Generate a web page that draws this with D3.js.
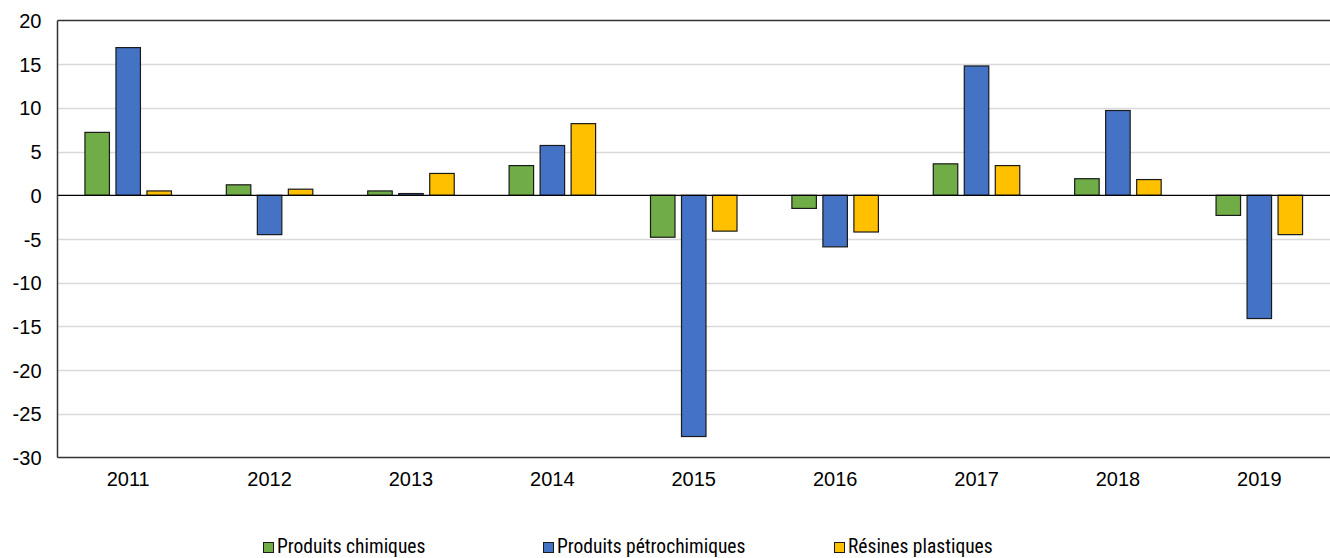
<!DOCTYPE html>
<html>
<head>
<meta charset="utf-8">
<script src="https://cdn.jsdelivr.net/npm/d3@7"></script>
<style>
  html, body { margin: 0; padding: 0; background: #fff; }
  svg { display: block; }
  text { font-family: "Liberation Sans Narrow", "Roboto Condensed", "DejaVu Sans Condensed", sans-serif; fill: #000; }
</style>
</head>
<body>
<svg id="chart" width="1330" height="558"></svg>
<script>
const years = ["2011","2012","2013","2014","2015","2016","2017","2018","2019"];
const seriesNames = ["Produits chimiques", "Produits pétrochimiques", "Résines plastiques"];
const chimiques     = [7.2, 1.2, 0.5, 3.4, -4.8, -1.5, 3.6, 1.9, -2.3];
const petrochimiques = [16.9, -4.5, 0.2, 5.7, -27.6, -5.9, 14.8, 9.7, -14.1];
const resines       = [0.5, 0.7, 2.5, 8.2, -4.1, -4.2, 3.4, 1.8, -4.5];
const yTicks = [20, 15, 10, 5, 0, -5, -10, -15, -20, -25, -30];
const yTickLabels = ["20", "15", "10", "5", "0", "-5", "-10", "-15", "-20", "-25", "-30"];
const colors = ["#70ad47", "#4472c4", "#ffc000"];

const seriesValues = [chimiques, petrochimiques, resines];

(function () {
const svg = d3.select("#chart");
const mLeft = 57.5, mRight = 1330, mTop = 20.5, mBottom = 457.5;

const x0 = d3.scaleBand().domain(years).range([mLeft, mRight]).padding(0);
const x1 = d3.scaleBand().domain(seriesNames).range([-43.25, 43.25]).paddingInner(0.21).paddingOuter(0);
const y = d3.scaleLinear().domain([-30, 20]).range([mBottom, mTop]);

// gridlines
svg.append("g").selectAll("line").data(yTicks.filter(t => t !== 20 && t !== -30 && t !== 0))
  .join("line")
  .attr("x1", mLeft).attr("x2", mRight)
  .attr("y1", d => Math.round(y(d)) + 0.5).attr("y2", d => Math.round(y(d)) + 0.5)
  .attr("stroke", "#d9d9d9").attr("stroke-width", 1.3);

// y axis labels
const yAxis = d3.axisLeft(y).tickValues(yTicks).tickSize(0).tickPadding(16)
  .tickFormat((d, i) => yTickLabels[i]);
const gy = svg.append("g").attr("transform", `translate(${mLeft},0)`).call(yAxis);
gy.select(".domain").remove();
gy.selectAll("text").attr("font-size", 20).style("font-family", "'Liberation Sans Narrow', sans-serif").attr("fill", "#000").attr("dy", "0.35em");

// x axis labels
const xAxis = d3.axisBottom(x0).tickSize(0).tickPadding(14);
const gx = svg.append("g").attr("transform", `translate(0,${mBottom})`).call(xAxis);
gx.select(".domain").remove();
gx.selectAll("text").attr("font-size", 20).style("font-family", "'Liberation Sans Narrow', sans-serif").attr("fill", "#000");

// bars
seriesValues.forEach((vals, si) => {
  svg.append("g").selectAll("rect").data(vals.map((v, i) => ({year: years[i], v})))
    .join("rect")
    .attr("x", d => x0(d.year) + x0.bandwidth() / 2 + x1(seriesNames[si]))
    .attr("width", x1.bandwidth())
    .attr("y", d => y(Math.max(0, d.v)))
    .attr("height", d => Math.abs(y(d.v) - y(0)))
    .attr("fill", colors[si])
    .attr("stroke", "#1a1a1a")
    .attr("stroke-width", 1.2);
});

// zero line
svg.append("line").attr("x1", mLeft).attr("x2", mRight)
  .attr("y1", y(0)).attr("y2", y(0)).attr("stroke", "#000").attr("stroke-width", 1.2);

// frame: top, left, bottom
svg.append("line").attr("x1", mLeft).attr("x2", mRight).attr("y1", mTop).attr("y2", mTop).attr("stroke", "#333").attr("stroke-width", 1.5);
svg.append("line").attr("x1", mLeft).attr("x2", mRight).attr("y1", mBottom).attr("y2", mBottom).attr("stroke", "#333").attr("stroke-width", 1.5);
svg.append("line").attr("x1", mLeft).attr("x2", mLeft).attr("y1", mTop).attr("y2", mBottom).attr("stroke", "#333").attr("stroke-width", 1.5);

// legend
const legendX = [263, 543, 834];
const lg = svg.append("g");
seriesNames.forEach((name, i) => {
  lg.append("rect").attr("x", legendX[i] + 0.5).attr("y", 542.5).attr("width", 10).attr("height", 10)
    .attr("fill", colors[i]).attr("stroke", "#1a1a1a").attr("stroke-width", 1);
  lg.append("text").attr("x", legendX[i] + 14).attr("y", 553).attr("font-size", 19.5).text(name);
});
})();
</script>
</body>
</html>
